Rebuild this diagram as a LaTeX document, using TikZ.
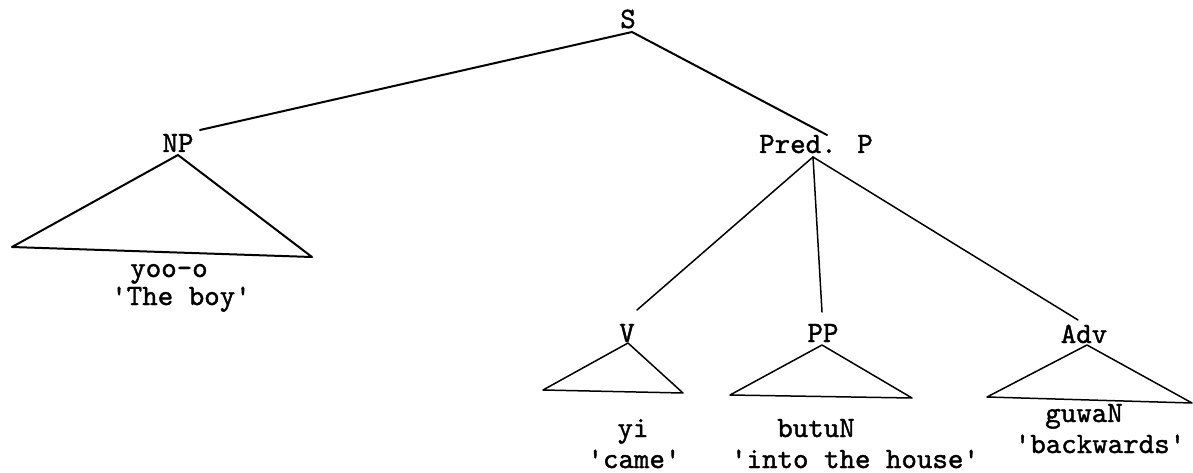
\documentclass[tikz,border=0pt]{standalone}
\usepackage{fontspec}
% typewriter face, slightly emboldened
\newfontfamily\typewriter{lmmono10-regular.otf}[FakeBold=1.3]
\begin{document}
\begin{tikzpicture}[x=1pt,y=-1pt,
    lbl/.style={inner sep=0pt,anchor=base,font=\fontsize{29.5}{34}\selectfont\typewriter},
    branch/.style={line width=2pt,line cap=round,line join=round},
    twig/.style={line width=1.5pt,line cap=round,line join=round}]
  \useasboundingbox (0,0) rectangle (1193,473);

  % category labels
  \node[lbl] (S)    at (628,28)  {S};
  \node[lbl] (NP)   at (178,152) {NP};
  \node[lbl] (Pred) at (816,153) {Pred. P};
  \node[lbl] (V)    at (627,342) {V};
  \node[lbl] (PP)   at (823,342) {PP};
  \node[lbl] (Adv)  at (1084,343) {Adv};

  % words and glosses
  \node[lbl] (yoo)   at (169,277)  {yoo-o};
  \node[lbl] (boy)   at (181,305)  {\textquotesingle The boy\textquotesingle};
  \node[lbl] (yi)    at (633,437)  {yi};
  \node[lbl] (came)  at (634,468)  {\textquotesingle came\textquotesingle};
  \node[lbl] (butuN) at (816,437)  {butuN};
  \node[lbl] (house) at (855,468)  {\textquotesingle into the house\textquotesingle};
  \node[lbl] (guwaN) at (1084,422) {guwaN};
  \node[lbl] (back)  at (1100,453) {\textquotesingle backwards\textquotesingle};

  % branch end points
  \coordinate (S-b)    at (632,32);
  \coordinate (NP-t)   at (200,130);
  \coordinate (Pred-t) at (827,135);
  \coordinate (Pred-b) at (813,157);
  \coordinate (V-t)    at (637,310);
  \coordinate (PP-t)   at (822,312);
  \coordinate (Adv-t)  at (1078,320);

  % triangle corners
  \coordinate (NP-a) at (178,155);
  \coordinate (NP-l) at (12,247);
  \coordinate (NP-r) at (312,257);
  \coordinate (V-a)  at (628,343);
  \coordinate (V-l)  at (543,390);
  \coordinate (V-r)  at (683,393);
  \coordinate (PP-a) at (822,345);
  \coordinate (PP-l) at (730,395);
  \coordinate (PP-r) at (912,398);
  \coordinate (Adv-a) at (1087,345);
  \coordinate (Adv-l) at (987,397);
  \coordinate (Adv-r) at (1192,403);

  % branches
  \draw[branch] (NP-t) -- (S-b) -- (Pred-t);
  \draw[twig] (Pred-b) -- (V-t);
  \draw[twig] (Pred-b) -- (PP-t);
  \draw[twig] (Pred-b) -- (Adv-t);

  % triangles
  \draw[branch] (NP-a) -- (NP-l) -- (NP-r) -- cycle;
  \draw[twig] (V-a) -- (V-l) -- (V-r) -- cycle;
  \draw[twig] (PP-a) -- (PP-l) -- (PP-r) -- cycle;
  \draw[twig] (Adv-a) -- (Adv-l) -- (Adv-r) -- cycle;
\end{tikzpicture}
\end{document}
